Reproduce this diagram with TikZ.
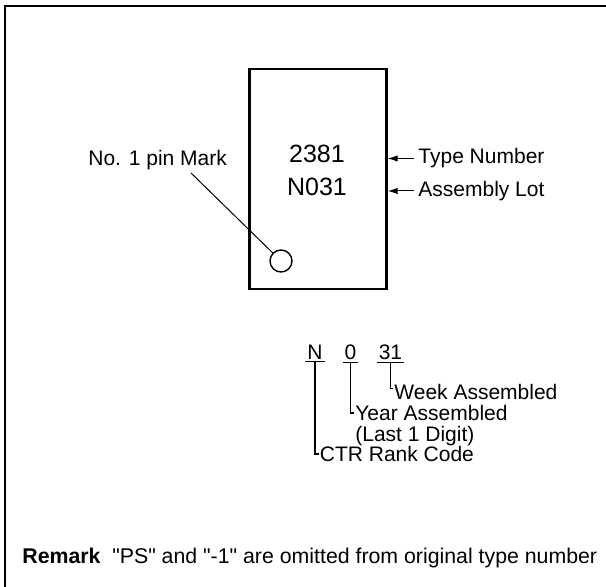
\documentclass[tikz,border=0pt]{standalone}
\usepackage{fontspec}
\setmainfont{Liberation Sans}[Ligatures=TeXOff]
\usepackage{tikz}
\usetikzlibrary{positioning, arrows.meta}

\begin{document}
\begin{tikzpicture}[
    x=0.5pt, y=-0.5pt,
    lbl/.style={font=\fontsize{10.5}{12.6}\selectfont, inner sep=0pt},
    marktxt/.style={font=\fontsize{12.5}{15}\selectfont, inner sep=0pt},
    codechar/.style={lbl, inner xsep=0.8pt, inner ysep=1pt},
    pkgbox/.style={rectangle, draw, line width=1.2pt, minimum width=68.5pt, minimum height=110pt},
    arr/.style={-{Latex[length=5pt, width=3.2pt]}, line width=0.5pt},
    lead/.style={line width=0.5pt},
    tick/.style={line width=0.6pt}
]
  \useasboundingbox (0,0) rectangle (606,587);
  \draw[line width=1pt] (5,587) -- (5,6) -- (606,6);

  \node[pkgbox] (pkg) at (318,179) {};
  \node[marktxt, anchor=base] (typeno) at (317,163) {2381};
  \node[marktxt, anchor=base] (lotno) at (317,195.5) {N031};
  \node[circle, draw, line width=0.7pt, minimum size=11pt, inner sep=0pt] (pin) at (281,261) {};

  \node[lbl, anchor=west] (typelbl) at (418,158.5) {Type Number};
  \node[lbl, anchor=west] (lotlbl) at (418,191) {Assembly Lot};
  \node[lbl, anchor=base west] (pinlbl) at (88,165.5) {No. 1 pin Mark};
  \coordinate (pinfoot) at (191,173);

  \draw[arr] ([xshift=-2pt]typelbl.west) -- (typelbl.west -| pkg.east);
  \draw[arr] ([xshift=-2pt]lotlbl.west) -- (lotlbl.west -| pkg.east);
  \draw[lead] (pinfoot) -- (pin);

  \node[codechar, anchor=base] (rank) at (315,359.5) {N};
  \node[codechar, anchor=base] (year) at (350.5,359.5) {0};
  \node[codechar, anchor=base] (week) at (390.5,359.5) {31};
  \foreach \c in {rank, year, week}
    \draw[tick] (\c.south west) -- (\c.south east);

  \node[lbl, anchor=base west] (weeklbl) at (394,400) {Week Assembled};
  \node[lbl, anchor=base west] (yearlbl) at (355,420.5) {Year Assembled};
  \node[lbl, anchor=base west] (digitlbl) at (355,441.5) {(Last 1 Digit)};
  \node[lbl, anchor=base west] (ranklbl) at (319.5,461.5) {CTR Rank Code};

  \draw[tick] (rank.south) |- ([xshift=-0.5pt]ranklbl.west);
  \draw[tick] (year.south) |- ([xshift=-0.5pt]yearlbl.west);
  \draw[tick] (week.south) |- ([xshift=-0.5pt,yshift=2pt]weeklbl.west);

  \node[lbl, font=\fontsize{10.65}{13}\selectfont, anchor=base west] (remark) at (22,564)
    {\textbf{Remark}\hspace{0.55em}"PS" and "-1" are omitted from original type number};
\end{tikzpicture}
\end{document}
